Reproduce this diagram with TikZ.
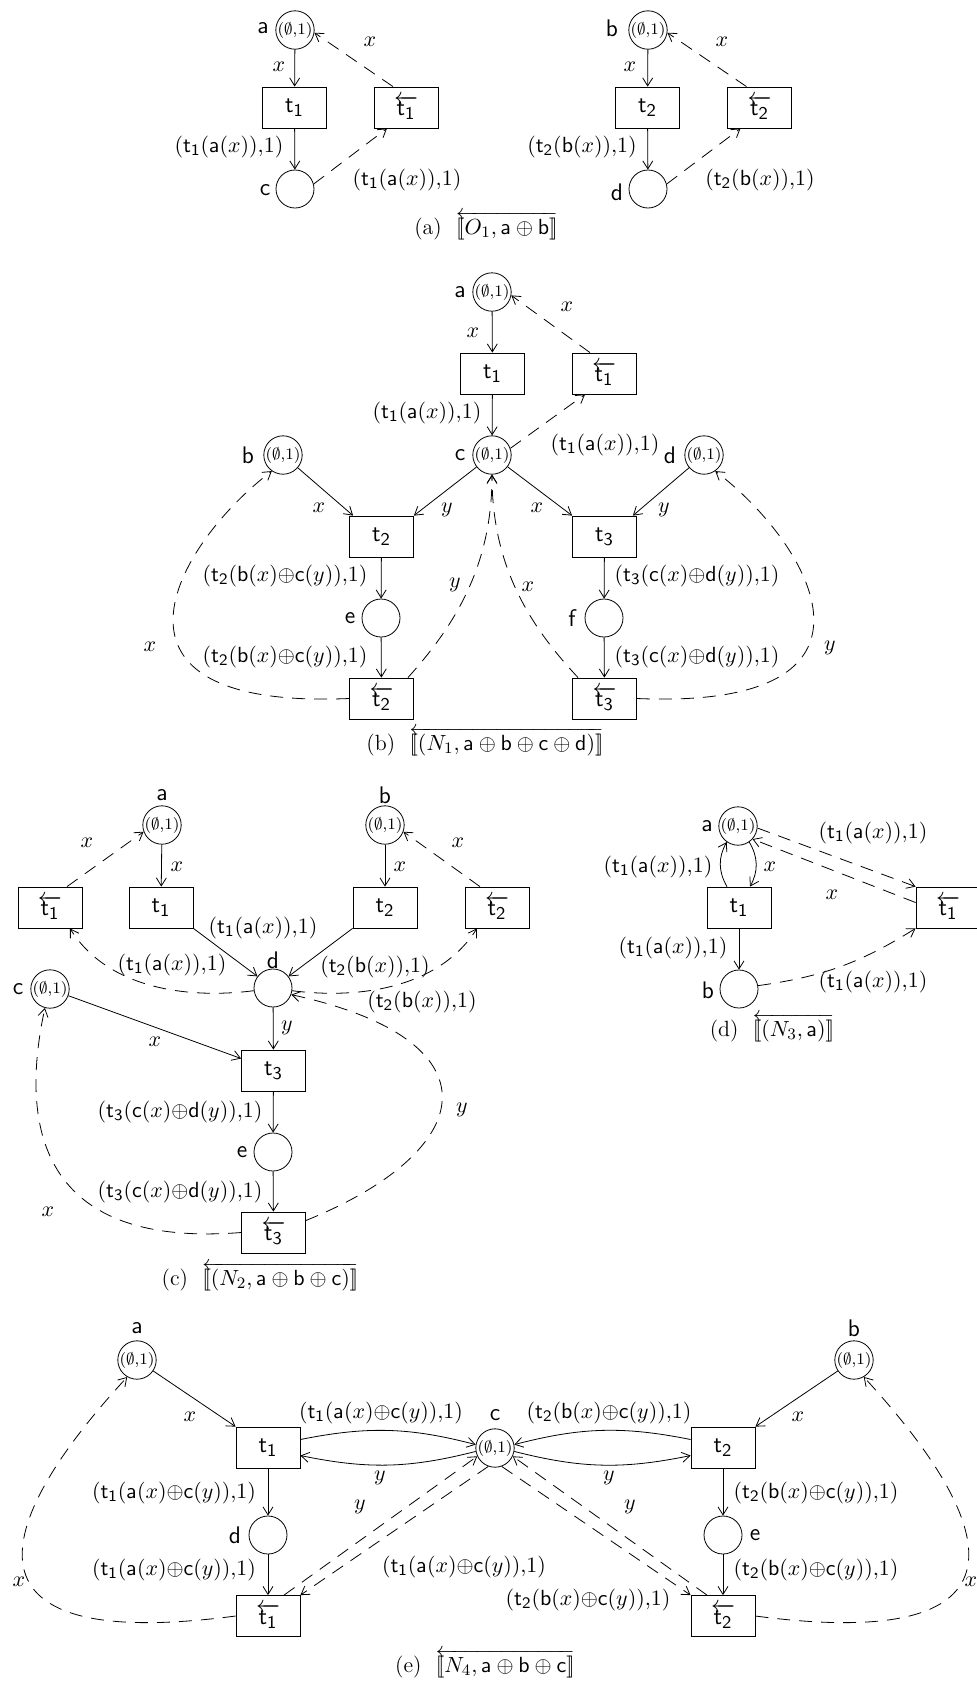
\documentclass[tikz,border=0pt]{standalone}
\usetikzlibrary{arrows.meta,calc}
\newcommand{\trn}[1]{\mathsf{t}_{\mathsf{#1}}}
\newcommand{\rtrn}[1]{\overleftarrow{\mathsf{t}_{\mathsf{#1}}}}
\newcommand{\tok}{{\fontsize{8}{9}\selectfont$(\emptyset{,}1)$}}
\newcommand{\dbr}[1]{[\![#1]\!]}
\newcommand{\LA}{$(\trn1(\mathsf{a}(x)){,}1)$}
\newcommand{\LB}{$(\trn2(\mathsf{b}(x)){,}1)$}
\newcommand{\LBb}{$(\trn2(\mathsf{b}(x){\oplus}\mathsf{c}(y)){,}1)$}
\newcommand{\LBc}{$(\trn3(\mathsf{c}(x){\oplus}\mathsf{d}(y)){,}1)$}
\newcommand{\LEa}{$(\trn1(\mathsf{a}(x){\oplus}\mathsf{c}(y)){,}1)$}
\newcommand{\LEb}{$(\trn2(\mathsf{b}(x){\oplus}\mathsf{c}(y)){,}1)$}
\begin{document}
\begin{tikzpicture}[x=0.5pt,y=-0.5pt,
 place/.style={circle, draw, minimum size=19pt, inner sep=0pt},
 trans/.style={rectangle, draw, minimum width=32pt, minimum height=20.5pt, inner sep=0pt, font=\fontsize{12.5}{14}\selectfont},
 pnarc/.style={-{Straight Barb[length=4pt,width=5pt]}},
 dpnarc/.style={pnarc, dash pattern=on 6.5pt off 4.5pt},
 lbl/.style={font=\fontsize{11}{13}\selectfont, inner sep=0pt},
 plbl/.style={font=\fontsize{12}{14}\selectfont\sffamily, inner sep=0pt},
 capt/.style={font=\fontsize{11}{13}\selectfont, inner sep=0pt, anchor=base}]
\useasboundingbox (0,0) rectangle (976,1683);

% ---------------- (a) ----------------
\node[place] (a1) at (295,30) {\tok};
\node[plbl] (a1l) at (263,28) {a};
\node[trans] (t1a) at (294.5,107.5) {$\trn1$};
\node[trans] (t1ra) at (406,107.5) {$\rtrn1$};
\node[place] (c1) at (295,189) {};
\node[plbl] (c1l) at (265,190) {c};
\draw[pnarc] (a1) -- (t1a);
\draw[pnarc] (t1a) -- (c1);
\draw[dpnarc] (c1.15) -- ($(t1ra.south)+(-19,0)$);
\draw[dpnarc] ($(t1ra.north)+(-13,0)$) -- (a1.-8);
\node[lbl] (la1) at (279,67) {$x$};
\node[lbl] (la2) at (229,147) {\LA};
\node[lbl] (la3) at (407,180) {\LA};
\node[lbl] (la4) at (370,42) {$x$};

\node[place] (b1) at (648,30) {\tok};
\node[plbl] (b1l) at (612,28) {b};
\node[trans] (t2a) at (647.5,107.5) {$\trn2$};
\node[trans] (t2ra) at (759.5,107.5) {$\rtrn2$};
\node[place] (d1) at (648,189) {};
\node[plbl] (d1l) at (617,192) {d};
\draw[pnarc] (b1) -- (t2a);
\draw[pnarc] (t2a) -- (d1);
\draw[dpnarc] (d1.15) -- ($(t2ra.south)+(-19,0)$);
\draw[dpnarc] ($(t2ra.north)+(-13,0)$) -- (b1.-8);
\node[lbl] (lb1) at (630,67) {$x$};
\node[lbl] (lb2) at (582,147) {\LB};
\node[lbl] (lb3) at (760,180) {\LB};
\node[lbl] (lb4) at (722,42) {$x$};

\node[capt] (capa) at (486,234) {(a)\ \ $\overleftarrow{\dbr{O_1,\mathsf{a}\oplus\mathsf{b}}}$};

% ---------------- (b) ----------------
\node[place] (a2) at (492,292) {\tok};
\node[plbl] (a2l) at (460,292) {a};
\node[trans] (t1b) at (492.5,373.5) {$\trn1$};
\node[trans] (t1rb) at (604,373.5) {$\rtrn1$};
\node[place] (c2) at (492,455) {\tok};
\node[plbl] (c2l) at (460,455) {c};
\node[place] (b2) at (283,455) {\tok};
\node[plbl] (b2l) at (248,455) {b};
\node[place] (d2) at (704,455) {\tok};
\node[plbl] (d2l) at (670,455) {d};
\node[trans] (t2b) at (381.5,536.5) {$\trn2$};
\node[trans] (t3b) at (604.5,536.5) {$\trn3$};
\node[place] (e2) at (381,618) {};
\node[plbl] (e2l) at (350,618) {e};
\node[place] (f2) at (604,618) {};
\node[plbl] (f2l) at (572,618) {f};
\node[trans] (t2rb) at (381.5,698.5) {$\rtrn2$};
\node[trans] (t3rb) at (604.5,698.5) {$\rtrn3$};

\draw[pnarc] (a2) -- (t1b);
\draw[pnarc] (t1b) -- (c2);
\draw[dpnarc] (c2.20) -- ($(t1rb.south)+(-19,0)$);
\draw[dpnarc] ($(t1rb.north)+(-14,0)$) -- (a2.-10);
\draw[pnarc] (b2) -- ($(t2b.north west)+(4,0)$);
\draw[pnarc] (c2) -- (t2b.north east);
\draw[pnarc] (c2) -- (t3b.north west);
\draw[pnarc] (d2) -- ($(t3b.north east)+(-4,0)$);
\draw[pnarc] (t2b) -- (e2);
\draw[pnarc] (e2) -- (t2rb);
\draw[pnarc] (t3b) -- (f2);
\draw[pnarc] (f2) -- (t3rb);
\draw[dpnarc] ($(t2rb.north east)+(-6,0)$) .. controls (460,620) and (492,560) .. (c2.south);
\draw[dpnarc] ($(t3rb.north west)+(6,0)$) .. controls (524,620) and (492,560) .. (c2.south);
\draw[dpnarc] (t2rb.west) .. controls (80,710) and (175,545) .. (b2.-125);
\draw[dpnarc] (t3rb.east) .. controls (907,710) and (812,545) .. (d2.-55);

\node[lbl] (lc1) at (473,333) {$x$};
\node[lbl] (lc2) at (567,307) {$x$};
\node[lbl] (lc3) at (427,413) {\LA};
\node[lbl] (lc4) at (605,445) {\LA};
\node[lbl] (lc5) at (319,508) {$x$};
\node[lbl] (lc6) at (447,510) {$y$};
\node[lbl] (lc7) at (537,508) {$x$};
\node[lbl] (lc8) at (664,510) {$y$};
\node[lbl] (lc9) at (285,576) {\LBb};
\node[lbl] (lc10) at (285,657) {\LBb};
\node[lbl] (lc11) at (697,576) {\LBc};
\node[lbl] (lc12) at (697,657) {\LBc};
\node[lbl] (lc13) at (455,585) {$y$};
\node[lbl] (lc14) at (528,587) {$x$};
\node[lbl] (lc15) at (150,647) {$x$};
\node[lbl] (lc16) at (830,648) {$y$};

\node[capt] (capb) at (485,750) {(b)\ \ $\overleftarrow{\dbr{(N_1,\mathsf{a}\oplus\mathsf{b}\oplus\mathsf{c}\oplus\mathsf{d})}}$};

% ---------------- (c) ----------------
\node[place] (a3) at (162,825) {\tok};
\node[plbl] (a3l) at (162,795) {a};
\node[place] (b3) at (385,825) {\tok};
\node[plbl] (b3l) at (385,795) {b};
\node[trans] (t1c) at (161,907.5) {$\trn1$};
\node[trans] (t1rc) at (50,907.5) {$\rtrn1$};
\node[trans] (t2c) at (385,907.5) {$\trn2$};
\node[trans] (t2rc) at (497,907.5) {$\rtrn2$};
\node[place] (d3) at (273,988) {};
\node[plbl] (d3l) at (273,960) {d};
\node[place] (c3) at (50,989) {\tok};
\node[plbl] (c3l) at (18,989) {c};
\node[trans] (t3c) at (273.5,1070.5) {$\trn3$};
\node[place] (e3) at (273,1152) {};
\node[plbl] (e3l) at (242,1152) {e};
\node[trans] (t3rc) at (273.5,1232.5) {$\rtrn3$};

\draw[pnarc] (a3) -- (t1c);
\draw[pnarc] (b3) -- (t2c);
\draw[dpnarc] ($(t1rc.north)+(17,0)$) -- (a3.-160);
\draw[dpnarc] ($(t2rc.north)+(-17,0)$) -- (b3.-20);
\draw[pnarc] (t1c.south east) -- (d3);
\draw[pnarc] (t2c.south west) -- (d3);
\draw[dpnarc] (d3.188) .. controls (180,1000) and (105,985) .. ($(t1rc.south)+(20,0)$);
\draw[dpnarc] (d3.-8) .. controls (366,1000) and (441,985) .. ($(t2rc.south)+(-20,0)$);
\draw[pnarc] (c3) -- ($(t3c.west)+(0,-12)$);
\draw[pnarc] (d3) -- (t3c);
\draw[pnarc] (t3c) -- (e3);
\draw[pnarc] (e3) -- (t3rc);
\draw[dpnarc] (t3rc.west) .. controls (20,1250) and (25,1100) .. (c3.-105);
\draw[dpnarc] ($(t3rc.east)+(0,-12)$) .. controls (480,1150) and (500,1040) .. (d3.-20);

\node[lbl] (ld1) at (177,867) {$x$};
\node[lbl] (ld2) at (400,867) {$x$};
\node[lbl] (ld3) at (87,843) {$x$};
\node[lbl] (ld4) at (458,843) {$x$};
\node[lbl] (ld5) at (263,928) {\LA};
\node[lbl] (ld6) at (375,967) {\LB};
\node[lbl] (ld7) at (172,965) {\LA};
\node[lbl] (ld8) at (422,1002) {\LB};
\node[lbl] (ld9) at (155,1042) {$x$};
\node[lbl] (ld10) at (287,1028) {$y$};
\node[lbl] (ld11) at (180,1112) {\LBc};
\node[lbl] (ld12) at (180,1192) {\LBc};
\node[lbl] (ld13) at (48,1212) {$x$};
\node[lbl] (ld14) at (462,1110) {$y$};

\node[capt] (capc) at (260,1285) {(c)\ \ $\overleftarrow{\dbr{(N_2,\mathsf{a}\oplus\mathsf{b}\oplus\mathsf{c})}}$};

% ---------------- (d) ----------------
\node[place] (a4) at (738,826) {\tok};
\node[plbl] (a4l) at (707,826) {a};
\node[trans] (t1d) at (739,907.5) {$\trn1$};
\node[trans] (t1rd) at (948,907.5) {$\rtrn1$};
\node[place] (b4) at (739,989) {};
\node[plbl] (b4l) at (708,990) {b};
\draw[pnarc] ($(t1d.north)+(-12,0)$) to[bend left=30] (a4.-125);
\draw[pnarc] (a4.-55) to[bend left=30] ($(t1d.north)+(11,0)$);
\draw[pnarc] (t1d) -- (b4);
\draw[dpnarc] (a4.-6) -- (t1rd.north west);
\draw[dpnarc] ($(t1rd.west)+(0,-5)$) -- (a4.-42);
\draw[dpnarc] (b4.10) to[bend right=12] (t1rd.south west);
\node[lbl] (le1) at (658,867) {\LA};
\node[lbl] (le2) at (770,867) {$x$};
\node[lbl] (le3) at (673,948) {\LA};
\node[lbl] (le4) at (873,833) {\LA};
\node[lbl] (le5) at (832,895) {$x$};
\node[lbl] (le6) at (873,982) {\LA};
\node[capt] (capd) at (772,1036) {(d)\ \ $\overleftarrow{\dbr{(N_3,\mathsf{a})}}$};

% ---------------- (e) ----------------
\node[place] (a5) at (137,1360) {\tok};
\node[plbl] (a5l) at (137,1328) {a};
\node[place] (b5) at (854,1360) {\tok};
\node[plbl] (b5l) at (854,1328) {b};
\node[trans] (t1e) at (268,1447.5) {$\trn1$};
\node[place] (c5) at (495,1448) {\tok};
\node[plbl] (c5l) at (495,1415) {c};
\node[trans] (t2e) at (723,1447.5) {$\trn2$};
\node[place] (d5) at (268,1535) {};
\node[plbl] (d5l) at (235,1535) {d};
\node[place] (e5) at (723,1535) {};
\node[plbl] (e5l) at (755,1535) {e};
\node[trans] (t1re) at (268,1616) {$\rtrn1$};
\node[trans] (t2re) at (723,1616) {$\rtrn2$};

\draw[pnarc] (a5) -- (t1e.north west);
\draw[pnarc] (b5) -- (t2e.north east);
\draw[pnarc] ($(t1e.east)+(0,-8)$) to[bend left=13] (c5.170);
\draw[pnarc] (c5.190) to[bend left=13] ($(t1e.east)+(0,8)$);
\draw[pnarc] ($(t2e.west)+(0,-8)$) to[bend right=13] (c5.10);
\draw[pnarc] (c5.-10) to[bend right=13] ($(t2e.west)+(0,8)$);
\draw[pnarc] (t1e) -- (d5);
\draw[pnarc] (d5) -- (t1re);
\draw[pnarc] (t2e) -- (e5);
\draw[pnarc] (e5) -- (t2re);
\draw[dpnarc] (t1re.west) .. controls (-60,1655) and (0,1515) .. (a5.-120);
\draw[dpnarc] (t2re.east) .. controls (1051,1655) and (991,1515) .. (b5.-60);
\draw[dpnarc] ($(t1re.north)+(16,0)$) -- (c5.-155);
\draw[dpnarc] (c5.-110) -- (t1re.north east);
\draw[dpnarc] ($(t2re.north)+(-16,0)$) -- (c5.-25);
\draw[dpnarc] (c5.-70) -- (t2re.north west);

\node[lbl] (lf1) at (190,1417) {$x$};
\node[lbl] (lf2) at (798,1417) {$x$};
\node[lbl] (lf3) at (381,1413) {\LEa};
\node[lbl] (lf4) at (380,1478) {$y$};
\node[lbl] (lf5) at (609,1413) {\LEb};
\node[lbl] (lf6) at (609,1478) {$y$};
\node[lbl] (lf7) at (174,1493) {\LEa};
\node[lbl] (lf8) at (174,1570) {\LEa};
\node[lbl] (lf9) at (816,1493) {\LEb};
\node[lbl] (lf10) at (816,1570) {\LEb};
\node[lbl] (lf11) at (19,1582) {$x$};
\node[lbl] (lf12) at (971,1582) {$x$};
\node[lbl] (lf13) at (360,1507) {$y$};
\node[lbl] (lf14) at (464,1567) {\LEa};
\node[lbl] (lf15) at (630,1507) {$y$};
\node[lbl] (lf16) at (588,1600) {\LEb};

\node[capt] (cape) at (485,1672) {(e)\ \ $\overleftarrow{\dbr{N_4,\mathsf{a}\oplus\mathsf{b}\oplus\mathsf{c}}}$};
\end{tikzpicture}
\end{document}
